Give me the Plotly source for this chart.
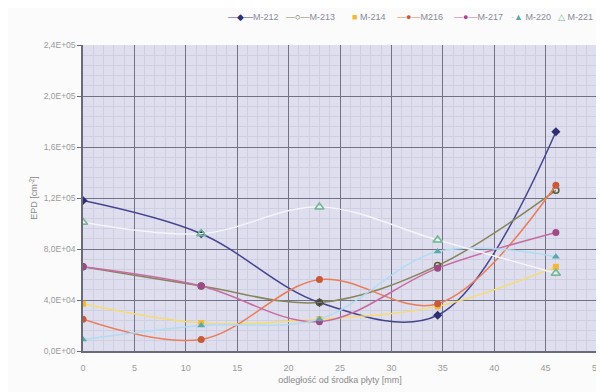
import plotly.graph_objects as go

x_mm = [0, 11.5, 23, 34.5, 46]

series_names = ["M-212", "M-213", "M-214", "M216", "M-217", "M-220", "M-221"]
m212 = [118000, 92000, 38000, 28000, 172000]
m213 = [66000, 51000, 38000, 67000, 126000]
m214 = [37000, 22000, 25000, 35000, 66000]
m216 = [25000, 9000, 56000, 37000, 130000]
m217 = [66000, 51000, 23000, 65000, 93000]
m220 = [9000, 20000, 25000, 78000, 74000]
m221 = [101000, 92000, 113000, 87000, 61000]

y_tickvals = [0, 40000, 80000, 120000, 160000, 200000, 240000]
y_ticktext = ["0,0E+00", "4,0E+04", "8,0E+04", "1,2E+05", "1,6E+05", "2,0E+05", "2,4E+05"]
x_tickvals = [0, 5, 10, 15, 20, 25, 30, 35, 40, 45, 50]

styles = [
    dict(line=dict(color="#44448e", width=1.5), marker=dict(symbol="diamond", size=7, color="#2e2e70")),
    dict(line=dict(color="#86845a", width=1.5), marker=dict(symbol="circle-open", size=6, color="#5a5a30", line=dict(width=1.5))),
    dict(line=dict(color="#f6dc70", width=1.5), marker=dict(symbol="square", size=6, color="#f2b83a")),
    dict(line=dict(color="#ea7c58", width=1.5), marker=dict(symbol="circle", size=7, color="#c85a3a")),
    dict(line=dict(color="#c86aa2", width=1.5), marker=dict(symbol="circle", size=7, color="#a04888")),
    dict(line=dict(color="#b0dcf2", width=1.5), marker=dict(symbol="triangle-up", size=7, color="#58a8b0")),
    dict(line=dict(color="#f4f4fa", width=1.5), marker=dict(symbol="triangle-up-open", size=8, color="#70b890", line=dict(width=1.5))),
]

# legend glyphs (text) and left edge of each legend entry, in page pixels
legend_glyphs = [
    ("<span style='color:#44448e'>—</span><span style='color:#2e2e70'>◆</span><span style='color:#44448e'>—</span>", "M-212"),
    ("<span style='color:#86845a'>—</span><span style='color:#5a5a30'>○</span><span style='color:#86845a'>—</span>", "M-213"),
    ("<span style='color:#f2b83a'>■</span> ", "M-214"),
    ("<span style='color:#ea7c58'>—</span><span style='color:#c85a3a'>●</span><span style='color:#ea7c58'>—</span>", "M216"),
    ("<span style='color:#c86aa2'>—</span><span style='color:#a04888'>●</span><span style='color:#c86aa2'>—</span>", "M-217"),
    ("<span style='color:#b0dcf2'>-</span><span style='color:#58a8b0'>▲</span> ", "M-220"),
    ("<span style='color:#70b890'>△</span> ", "M-221"),
]
legend_px = [226, 284, 350, 395, 452, 509, 556]

data = [m212, m213, m214, m216, m217, m220, m221]

W, H = 596, 384          # browser adds an 8 px body margin
L, R, T, B = 75, 7, 37, 41
plot_w = W - L - R
plot_h = H - T - B

fig = go.Figure()
for name, ys, st in zip(series_names, data, styles):
    fig.add_trace(go.Scatter(
        x=x_mm, y=ys, name=name, mode="lines+markers",
        line=dict(shape="spline", smoothing=1.0, **st["line"]),
        marker=st["marker"], showlegend=False,
    ))

for (glyph, label), px in zip(legend_glyphs, legend_px):
    fig.add_annotation(
        xref="paper", yref="paper", x=(px - 8 - L) / plot_w, y=1 + (T - 9) / plot_h,
        xanchor="left", yanchor="middle", showarrow=False,
        text=glyph + label, font=dict(size=9, color="#8a8a9a"),
    )

fig.update_layout(
    width=W, height=H,
    margin=dict(l=L, r=R, t=T, b=B, autoexpand=False),
    paper_bgcolor="#fbfbfb",
    plot_bgcolor="#dedeee",
    font=dict(family="Liberation Sans, Arial, sans-serif", size=9, color="#8a8a8a"),
)

fig.update_xaxes(
    range=[0, 50], tickvals=x_tickvals, ticks="outside", ticklen=7, tickcolor="rgba(0,0,0,0)",
    showline=True, linecolor="#6a6a7a", linewidth=1.5,
    showgrid=True, gridcolor="#727284", gridwidth=1.2, zeroline=False,
    minor=dict(dtick=1, showgrid=True, gridcolor="#cfcfe2", gridwidth=0.6),
    title=dict(text="odległość od środka płyty [mm]", font=dict(size=9, color="#8a8a8a"), standoff=5),
    tickfont=dict(size=9, color="#9a9a9a"),
)
fig.update_yaxes(
    range=[0, 240000], tickvals=y_tickvals, ticktext=y_ticktext, ticks="outside", ticklen=4,
    tickcolor="#6a6a7a", showline=True, linecolor="#6a6a7a", linewidth=1.5,
    showgrid=True, gridcolor="#727284", gridwidth=1.2, zeroline=False,
    minor=dict(dtick=8000, showgrid=True, gridcolor="#cfcfe2", gridwidth=0.6),
    title=dict(text="EPD [cm<sup>-2</sup>]", font=dict(size=9, color="#8a8a8a"), standoff=4),
    tickfont=dict(size=8.5, color="#9a9a9a"),
)

fig.write_html("out.html")
